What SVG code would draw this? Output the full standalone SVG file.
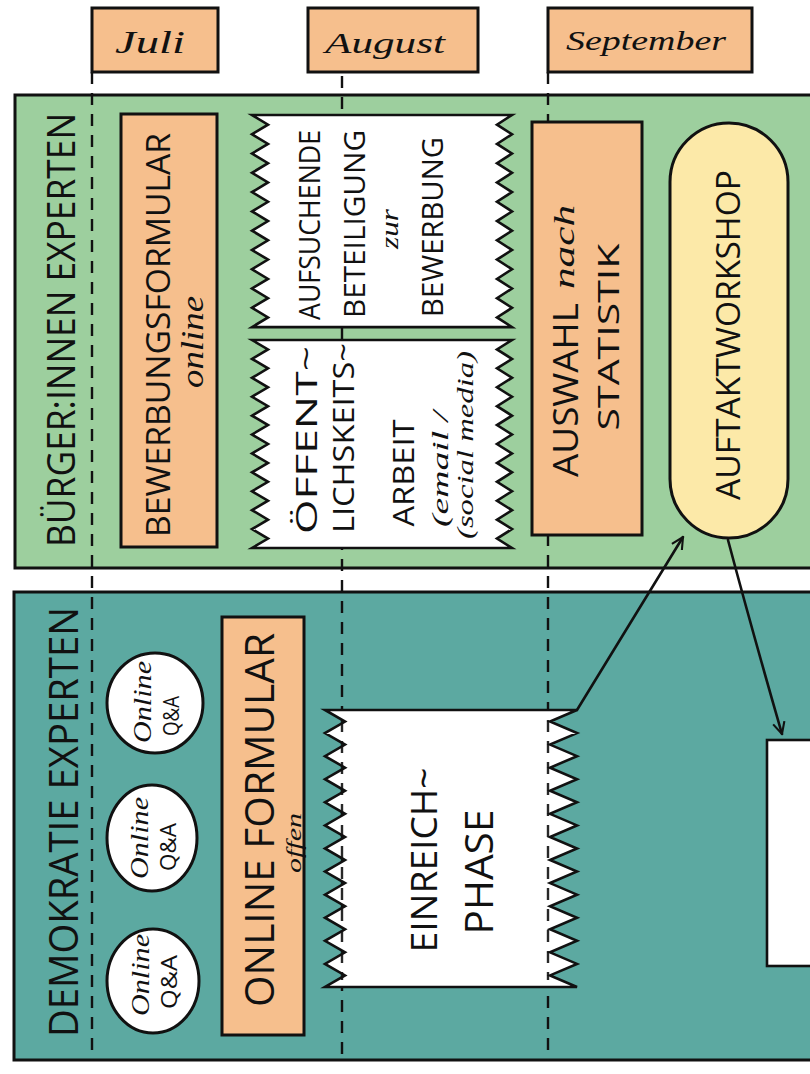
<svg xmlns="http://www.w3.org/2000/svg" width="810" height="1074" viewBox="0 0 810 1074">
<defs>
<style>
.ln{fill:none;stroke:#111;stroke-width:2.6;stroke-linejoin:round;stroke-linecap:round}
.dash{fill:none;stroke:#111;stroke-width:2.4;stroke-dasharray:12 9}
.org{fill:#f6bf8d;stroke:#111;stroke-width:3}
.wht{fill:#fff;stroke:#111;stroke-width:2.6;stroke-linejoin:miter}
.cap{font-family:"Open Sans","Liberation Sans",sans-serif;fill:#111;text-anchor:middle;dominant-baseline:central}
.hand{font-family:"Liberation Serif",serif;font-style:italic;fill:#111;text-anchor:middle;dominant-baseline:central}
</style>
<marker id="arr" viewBox="0 0 12 12" refX="11" refY="6" markerWidth="14" markerHeight="14" markerUnits="userSpaceOnUse" orient="auto">
<path d="M1,1 L11,6 L1,11" fill="none" stroke="#111" stroke-width="1.8"/>
</marker>
</defs>
<rect width="810" height="1074" fill="#fff"/>

<g id="months">
<rect x="92" y="8" width="126" height="64" class="org"/>
<text x="150" y="42" class="hand" font-size="32" textLength="70" lengthAdjust="spacingAndGlyphs">Juli</text>
<rect x="308" y="8" width="170" height="64" class="org"/>
<text x="385" y="42" class="hand" font-size="30" textLength="120" lengthAdjust="spacingAndGlyphs">August</text>
<rect x="548" y="8" width="204" height="64" class="org"/>
<text x="646" y="40" class="hand" font-size="28" textLength="160" lengthAdjust="spacingAndGlyphs">September</text>
</g>

<g id="band-buerger">
<rect x="15" y="95" width="820" height="473" fill="#9dcf9e" stroke="#111" stroke-width="3"/>
<text class="cap" font-size="38" transform="translate(60,330) rotate(-90)" textLength="434" lengthAdjust="spacingAndGlyphs">BÜRGER:INNEN EXPERTEN</text>
</g>

<g id="band-demokratie">
<rect x="14" y="592" width="820" height="468" fill="#5ca9a1" stroke="#111" stroke-width="3"/>
<text class="cap" font-size="40" transform="translate(62,822) rotate(-90)" textLength="430" lengthAdjust="spacingAndGlyphs">DEMOKRATIE EXPERTEN</text>
</g>

<g id="timeline">
<line x1="92" y1="72" x2="92" y2="1060" class="dash"/>
<line x1="342" y1="76" x2="342" y2="1060" class="dash"/>
<line x1="548" y1="72" x2="548" y2="1060" class="dash"/>
</g>

<g id="bewerbungsformular">
<rect x="121" y="114" width="96" height="433" class="org"/>
<text class="cap" font-size="32" transform="translate(157,335) rotate(-90)" textLength="404" lengthAdjust="spacingAndGlyphs">BEWERBUNGSFORMULAR</text>
<text class="hand" font-size="32" transform="translate(192,342) rotate(-90)" textLength="92" lengthAdjust="spacingAndGlyphs">online</text>
</g>

<g id="aufsuchende">
<path class="wht" d="M252,115 H512 l-15,9.64 15,9.64 l-15,9.64 15,9.64 l-15,9.64 15,9.64 l-15,9.64 15,9.64 l-15,9.64 15,9.64 l-15,9.64 15,9.64 l-15,9.64 15,9.64 l-15,9.64 15,9.64 l-15,9.64 15,9.64 l-15,9.64 15,9.64 l-15,9.64 15,9.64 H252 l16,-9.64 -16,-9.64 l16,-9.64 -16,-9.64 l16,-9.64 -16,-9.64 l16,-9.64 -16,-9.64 l16,-9.64 -16,-9.64 l16,-9.64 -16,-9.64 l16,-9.64 -16,-9.64 l16,-9.64 -16,-9.64 l16,-9.64 -16,-9.64 l16,-9.64 -16,-9.64 l16,-9.64 -16,-9.64 Z"/>
<text class="cap" font-size="30" transform="translate(308,225) rotate(-90)" textLength="190" lengthAdjust="spacingAndGlyphs">AUFSUCHENDE</text>
<text class="cap" font-size="30" transform="translate(353,224) rotate(-90)" textLength="188" lengthAdjust="spacingAndGlyphs">BETEILIGUNG</text>
<text class="hand" font-size="26" transform="translate(389,229) rotate(-90)" textLength="40" lengthAdjust="spacingAndGlyphs">zur</text>
<text class="cap" font-size="30" transform="translate(431,227) rotate(-90)" textLength="180" lengthAdjust="spacingAndGlyphs">BEWERBUNG</text>
</g>

<g id="oeffentlichkeit">
<path class="wht" d="M252,340 H512 l-15,9.4545 15,9.4545 l-15,9.4545 15,9.4545 l-15,9.4545 15,9.4545 l-15,9.4545 15,9.4545 l-15,9.4545 15,9.4545 l-15,9.4545 15,9.4545 l-15,9.4545 15,9.4545 l-15,9.4545 15,9.4545 l-15,9.4545 15,9.4545 l-15,9.4545 15,9.4545 l-15,9.4545 15,9.4545 H252 l16,-9.4545 -16,-9.4545 l16,-9.4545 -16,-9.4545 l16,-9.4545 -16,-9.4545 l16,-9.4545 -16,-9.4545 l16,-9.4545 -16,-9.4545 l16,-9.4545 -16,-9.4545 l16,-9.4545 -16,-9.4545 l16,-9.4545 -16,-9.4545 l16,-9.4545 -16,-9.4545 l16,-9.4545 -16,-9.4545 l16,-9.4545 -16,-9.4545 Z"/>
<text class="cap" font-size="30" transform="translate(305,440) rotate(-90)" textLength="188" lengthAdjust="spacingAndGlyphs">ÖFFENT~</text>
<text class="cap" font-size="30" transform="translate(342,438) rotate(-90)" textLength="190" lengthAdjust="spacingAndGlyphs">LICHSKEITS~</text>
<text class="cap" font-size="30" transform="translate(402,473) rotate(-90)" textLength="107" lengthAdjust="spacingAndGlyphs">ARBEIT</text>
<text class="hand" font-size="24" transform="translate(440,469) rotate(-90)" textLength="116" lengthAdjust="spacingAndGlyphs">(email /</text>
<text class="hand" font-size="24" transform="translate(465,445) rotate(-90)" textLength="188" lengthAdjust="spacingAndGlyphs">(social media)</text>
</g>

<g id="auswahl">
<rect x="532" y="122" width="110" height="413" class="org"/>
<text class="cap" font-size="34" transform="translate(565,390) rotate(-90)" textLength="174" lengthAdjust="spacingAndGlyphs">AUSWAHL</text>
<text class="hand" font-size="30" transform="translate(563,247) rotate(-90)" textLength="84" lengthAdjust="spacingAndGlyphs">nach</text>
<text class="cap" font-size="30" transform="translate(607,337) rotate(-90)" textLength="187" lengthAdjust="spacingAndGlyphs">STATISTIK</text>
</g>

<g id="auftaktworkshop">
<rect x="670" y="123" width="118" height="415" rx="59" ry="59" fill="#fce9a8" stroke="#111" stroke-width="3"/>
<text class="cap" font-size="32" transform="translate(727,335) rotate(-90)" textLength="330" lengthAdjust="spacingAndGlyphs">AUFTAKTWORKSHOP</text>
</g>

<g id="qa1">
<ellipse cx="155" cy="703" rx="48" ry="50" fill="#fff" stroke="#111" stroke-width="3"/>
<text class="hand" font-size="26" transform="translate(142,702) rotate(-90)" textLength="82" lengthAdjust="spacingAndGlyphs">Online</text>
<text class="cap" font-size="22" transform="translate(170,716) rotate(-90)" textLength="40" lengthAdjust="spacingAndGlyphs">Q&amp;A</text>
</g>
<g id="qa2">
<ellipse cx="152" cy="838" rx="45" ry="53" fill="#fff" stroke="#111" stroke-width="3"/>
<text class="hand" font-size="26" transform="translate(139,838) rotate(-90)" textLength="82" lengthAdjust="spacingAndGlyphs">Online</text>
<text class="cap" font-size="22" transform="translate(167,847) rotate(-90)" textLength="48" lengthAdjust="spacingAndGlyphs">Q&amp;A</text>
</g>
<g id="qa3">
<ellipse cx="153" cy="981" rx="46" ry="52" fill="#fff" stroke="#111" stroke-width="3"/>
<text class="hand" font-size="26" transform="translate(140,975) rotate(-90)" textLength="82" lengthAdjust="spacingAndGlyphs">Online</text>
<text class="cap" font-size="22" transform="translate(168,982) rotate(-90)" textLength="54" lengthAdjust="spacingAndGlyphs">Q&amp;A</text>
</g>

<g id="onlineformular">
<rect x="222" y="617" width="82" height="418" class="org"/>
<text class="cap" font-size="40" transform="translate(258,820) rotate(-90)" textLength="374" lengthAdjust="spacingAndGlyphs">ONLINE FORMULAR</text>
<text class="hand" font-size="22" transform="translate(293,843) rotate(-90)" textLength="60" lengthAdjust="spacingAndGlyphs">offen</text>
</g>

<g id="einreichphase">
<path class="wht" d="M325,710 H577 l-27,11.54 27,11.54 l-27,11.54 27,11.54 l-27,11.54 27,11.54 l-27,11.54 27,11.54 l-27,11.54 27,11.54 l-27,11.54 27,11.54 l-27,11.54 27,11.54 l-27,11.54 27,11.54 l-27,11.54 27,11.54 l-27,11.54 27,11.54 l-27,11.54 27,11.54 l-27,11.54 27,11.54 H325 l20,-11.54 -20,-11.54 l20,-11.54 -20,-11.54 l20,-11.54 -20,-11.54 l20,-11.54 -20,-11.54 l20,-11.54 -20,-11.54 l20,-11.54 -20,-11.54 l20,-11.54 -20,-11.54 l20,-11.54 -20,-11.54 l20,-11.54 -20,-11.54 l20,-11.54 -20,-11.54 l20,-11.54 -20,-11.54 l20,-11.54 -20,-11.54 Z"/>
<line x1="342" y1="720" x2="342" y2="980" class="dash" opacity="0.9"/>
<line x1="548" y1="720" x2="548" y2="980" class="dash" opacity="0.9"/>
<text class="cap" font-size="36" transform="translate(423,860) rotate(-90)" textLength="185" lengthAdjust="spacingAndGlyphs">EINREICH~</text>
<text class="cap" font-size="38" transform="translate(478,872) rotate(-90)" textLength="125" lengthAdjust="spacingAndGlyphs">PHASE</text>
</g>

<g id="next-box">
<rect x="767" y="740" width="60" height="226" class="wht"/>
</g>

<g id="connectors">
<path class="ln" d="M577,710 L683,537" marker-end="url(#arr)"/>
<path class="ln" d="M728,540 Q752,630 782,734" marker-end="url(#arr)"/>
</g>
</svg>
